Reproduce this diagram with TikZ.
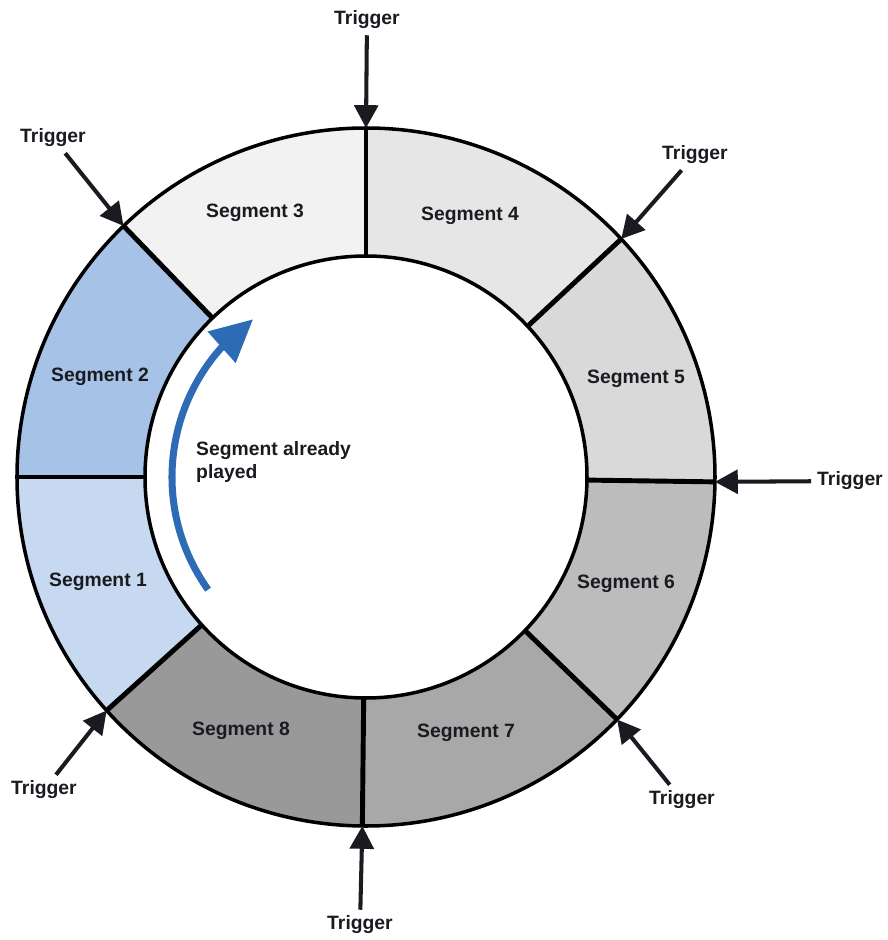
\documentclass[tikz,border=0pt]{standalone}
\usepackage{fontspec}
\setmainfont{Liberation Sans}
\usetikzlibrary{arrows.meta,bending,positioning}
\definecolor{inkdark}{HTML}{1A1A20}
\definecolor{playblue}{HTML}{2E6BB5}
\definecolor{segone}{HTML}{C6D9F0}
\definecolor{segtwo}{HTML}{A6C3E7}
\definecolor{segthree}{HTML}{F2F2F2}
\definecolor{segfour}{HTML}{E6E6E6}
\definecolor{segfive}{HTML}{D9D9D9}
\definecolor{segsix}{HTML}{BCBCBC}
\definecolor{segseven}{HTML}{A8A8A8}
\definecolor{segeight}{HTML}{999999}

\begin{document}
\begin{tikzpicture}[x=0.02cm,y=0.02cm,
	seglabel/.style={font=\fontsize{11}{13.5}\selectfont\bfseries,text=inkdark},
	trigarrow/.style={line width=2.3pt,color=inkdark,-{Triangle[length=13pt,width=13.5pt]}},
	divider/.style={line width=2.8pt,color=black}]
			\useasboundingbox (-366,-463) rectangle (521,477);
			% Fill the eight segments of the ring
			\fill[segone] (180:221) -- (180:349) arc[start angle=180,end angle=222,radius=349] -- (222:221) arc[start angle=222,end angle=180,radius=221] -- cycle;
			\fill[segtwo] (134:221) -- (134:349) arc[start angle=134,end angle=180,radius=349] -- (180:221) arc[start angle=180,end angle=134,radius=221] -- cycle;
			\fill[segthree] (90:221) -- (90:349) arc[start angle=90,end angle=134,radius=349] -- (134:221) arc[start angle=134,end angle=90,radius=221] -- cycle;
			\fill[segfour] (43:221) -- (43:349) arc[start angle=43,end angle=90,radius=349] -- (90:221) arc[start angle=90,end angle=43,radius=221] -- cycle;
			\fill[segfive] (-0.8:221) -- (-0.8:349) arc[start angle=-0.8,end angle=43,radius=349] -- (43:221) arc[start angle=43,end angle=-0.8,radius=221] -- cycle;
			\fill[segsix] (-44:221) -- (-44:349) arc[start angle=-44,end angle=-0.8,radius=349] -- (-0.8:221) arc[start angle=-0.8,end angle=-44,radius=221] -- cycle;
			\fill[segseven] (-90.6:221) -- (-90.6:349) arc[start angle=-90.6,end angle=-44,radius=349] -- (-44:221) arc[start angle=-44,end angle=-90.6,radius=221] -- cycle;
			\fill[segeight] (222:221) -- (222:349) arc[start angle=222,end angle=269.4,radius=349] -- (269.4:221) arc[start angle=269.4,end angle=222,radius=221] -- cycle;
			% Segment borders
			\draw[divider] (-0.8:221) -- (-0.8:349);
			\draw[divider] (43:221) -- (43:349);
			\draw[divider] (90:221) -- (90:349);
			\draw[divider] (134:221) -- (134:349);
			\draw[divider] (180:221) -- (180:349);
			\draw[divider] (222:221) -- (222:349);
			\draw[divider] (269.4:221) -- (269.4:349);
			\draw[divider] (-44:221) -- (-44:349);
			% Inner and outer circle
			\draw[line width=2pt] (0,0) circle[radius=349];
			\draw[line width=2pt] (0,0) circle[radius=221];
			% Segment names
			\node[seglabel] (seg1) at (-268,-105) {Segment 1};
			\node[seglabel] (seg2) at (-266,100) {Segment 2};
			\node[seglabel] (seg3) at (-111,264) {Segment 3};
			\node[seglabel] (seg4) at (104,261) {Segment 4};
			\node[seglabel] (seg5) at (270,98) {Segment 5};
			\node[seglabel] (seg6) at (260,-107) {Segment 6};
			\node[seglabel] (seg7) at (100,-256) {Segment 7};
			\node[seglabel] (seg8) at (-125,-254) {Segment 8};
			% Points where the triggers hit the ring
			\coordinate (hitE) at (-0.8:349);
			\coordinate (hitNE) at (43:349);
			\coordinate (hitN) at (90:349);
			\coordinate (hitNW) at (134:349);
			\coordinate (hitSW) at (222:349);
			\coordinate (hitS) at (269.4:349);
			\coordinate (hitSE) at (-44:349);
			% Trigger labels and arrows
			\node[seglabel] (trigE) at (484,-4) {Trigger};
			\node[seglabel] (trigNE) at (329,322) {Trigger};
			\node[seglabel] (trigN) at (1,457) {Trigger};
			\node[seglabel] (trigNW) at (-313,339) {Trigger};
			\node[seglabel] (trigSW) at (-322,-313) {Trigger};
			\node[seglabel] (trigS) at (-6,-448) {Trigger};
			\node[seglabel] (trigSE) at (316,-323) {Trigger};
			\draw[trigarrow] (trigE) -- (hitE);
			\draw[trigarrow] (trigNE) -- (hitNE);
			\draw[trigarrow] (trigN) -- (hitN);
			\draw[trigarrow] (trigNW) -- (hitNW);
			\draw[trigarrow] (trigSW) -- (hitSW);
			\draw[trigarrow] (trigS) -- (hitS);
			\draw[trigarrow] (trigSE) -- (hitSE);
			% Played part
			\draw[line width=4pt,playblue,-{Triangle[flex,length=24pt,width=23pt]}] (215.5:194) arc[start angle=215.5,end angle=125.6,radius=194];
			\node[seglabel,anchor=west,align=left] (played) at (-176,15) {Segment already\\played};
		\end{tikzpicture}
\end{document}
